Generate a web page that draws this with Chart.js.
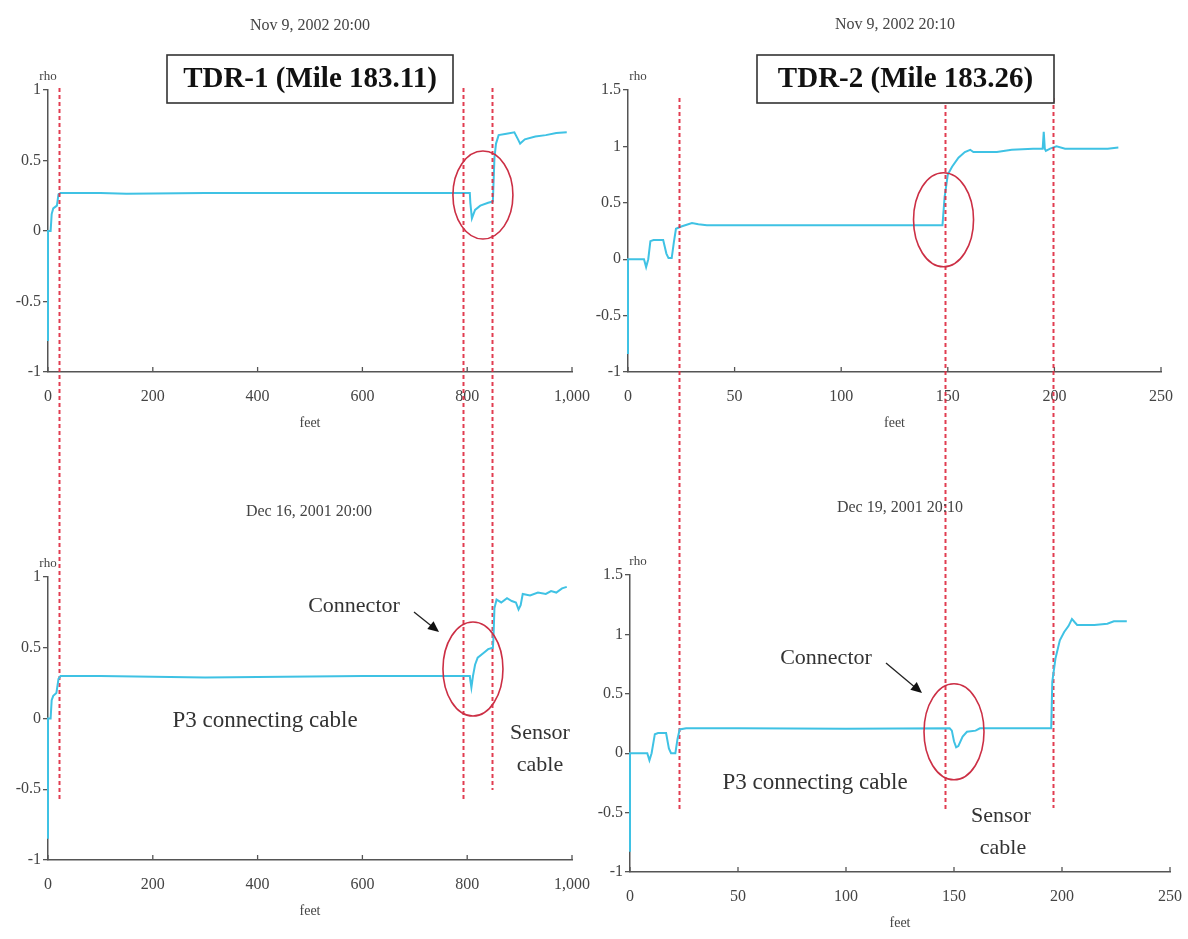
<!DOCTYPE html>
<html>
<head>
<meta charset="utf-8">
<script src="https://cdn.jsdelivr.net/npm/chart.js@4.4.1/dist/chart.umd.min.js"></script>
<style>
  html, body { margin: 0; padding: 0; background: #fff; }
  #wrap { position: relative; width: 1188px; height: 939px; }
  #wrap canvas { position: absolute; left: 0; top: 0; }
</style>
</head>
<body>
<div id="wrap">
  <canvas id="tdr1Nov" width="1188" height="939"></canvas>
  <canvas id="tdr2Nov" width="1188" height="939"></canvas>
  <canvas id="tdr1Dec" width="1188" height="939"></canvas>
  <canvas id="tdr2Dec" width="1188" height="939"></canvas>
</div>
<script>
// TDR-1, Nov 9 2002 20:00
const tdr1NovFeet = [0, 0, 5, 7, 10, 17, 20, 24, 100, 150, 300, 600, 805, 806, 809, 815, 825, 840, 849, 852, 855, 860, 875, 890, 897, 901, 910, 930, 950, 970, 990];
const tdr1NovRho  = [-0.78, 0, 0, 0.12, 0.16, 0.18, 0.26, 0.27, 0.27, 0.265, 0.27, 0.27, 0.27, 0.2, 0.09, 0.15, 0.18, 0.2, 0.21, 0.52, 0.62, 0.68, 0.69, 0.7, 0.65, 0.62, 0.65, 0.67, 0.68, 0.695, 0.7];

// TDR-2, Nov 9 2002 20:10
const tdr2NovFeet = [0, 0, 7.5, 8.5, 9.5, 10.5, 12, 16.5, 18, 19, 20.5, 21.5, 22.5, 25, 30, 33, 37, 60, 100, 147.5, 148.5, 150, 152, 155, 158, 160.5, 162, 165, 173, 180, 190, 194.5, 195, 195.5, 196, 198, 201, 205, 215, 225, 230];
const tdr2NovRho  = [-0.84, 0, 0, -0.07, 0, 0.16, 0.17, 0.17, 0.05, 0.01, 0.01, 0.15, 0.27, 0.29, 0.32, 0.31, 0.3, 0.3, 0.3, 0.3, 0.55, 0.75, 0.82, 0.9, 0.95, 0.97, 0.95, 0.95, 0.95, 0.97, 0.98, 0.98, 1.13, 0.98, 0.96, 0.98, 1.0, 0.98, 0.98, 0.98, 0.99];

// TDR-1, Dec 16 2001 20:00
const tdr1DecFeet = [0, 0, 5, 7, 10, 16, 20, 24, 100, 300, 600, 805, 806, 808, 811, 815, 820, 830, 840, 849, 850, 852, 856, 865, 876, 885, 893, 898, 902, 906, 920, 935, 950, 960, 970, 981, 990];
const tdr1DecRho  = [-0.85, 0, 0, 0.13, 0.16, 0.18, 0.28, 0.3, 0.3, 0.29, 0.3, 0.3, 0.27, 0.22, 0.3, 0.38, 0.43, 0.46, 0.49, 0.5, 0.56, 0.78, 0.84, 0.82, 0.85, 0.83, 0.82, 0.77, 0.8, 0.88, 0.87, 0.89, 0.88, 0.9, 0.89, 0.92, 0.93];

// TDR-2, Dec 19 2001 20:10
const tdr2DecFeet = [0, 0, 8, 9, 10, 11.5, 13, 16.7, 18, 19, 21, 22, 23, 26, 50, 100, 148, 149, 150, 151, 152, 154, 156, 160, 162, 170, 195, 195.5, 197, 199, 201, 203, 204.6, 206, 207, 215, 221, 224, 230];
const tdr2DecRho  = [-0.83, 0, 0, -0.06, 0, 0.16, 0.17, 0.17, 0.04, 0, 0, 0.12, 0.2, 0.21, 0.21, 0.205, 0.21, 0.19, 0.1, 0.05, 0.06, 0.14, 0.18, 0.19, 0.21, 0.21, 0.21, 0.6, 0.8, 0.95, 1.02, 1.07, 1.13, 1.1, 1.08, 1.08, 1.09, 1.11, 1.11];

// tick labels
const tdr1FeetTicks = [0, 200, 400, 600, 800, 1000];
const tdr2FeetTicks = [0, 50, 100, 150, 200, 250];
const tdr1RhoTicks = [-1, -0.5, 0, 0.5, 1];
const tdr2RhoTicks = [-1, -0.5, 0, 0.5, 1, 1.5];

// boundary markers (feet, read on the upper panels)
const tdr1MarkFeet = [21, 792, 847];
const tdr2MarkFeet = [24, 148.5, 199.5];

const TRACE = '#3fc2e4';
const AXIS = '#555';
const TEXT = '#444';
const MARK = 'rgba(222, 40, 62, 0.9)';
const RING = '#cc2f45';
const SERIF = '"Liberation Serif", "DejaVu Serif", serif';

function decorPlugin(d) {
    return {
        id: 'decor',
        afterDatasetsDraw(chart) {
            const ctx = chart.ctx;
            const xs = chart.scales.x, ys = chart.scales.y;
            ctx.save();

            // x ticks point up into the plot
            ctx.strokeStyle = AXIS;
            ctx.lineWidth = 1.3;
            xs.ticks.forEach(t => {
                const px = xs.getPixelForValue(t.value);
                ctx.beginPath();
                ctx.moveTo(px, ys.bottom);
                ctx.lineTo(px, ys.bottom - 5);
                ctx.stroke();
            });

            if (d.marks) {
                ctx.strokeStyle = MARK;
                ctx.lineWidth = 2;
                ctx.setLineDash([4, 3]);
                d.marks.feet.forEach((f, i) => {
                    const px = Math.round(xs.getPixelForValue(f)) + 0.5;
                    ctx.beginPath();
                    ctx.moveTo(px, d.marks.top);
                    ctx.lineTo(px, d.marks.bottom[i]);
                    ctx.stroke();
                });
                ctx.setLineDash([]);
            }

            if (d.ring) {
                ctx.strokeStyle = RING;
                ctx.lineWidth = 1.6;
                ctx.beginPath();
                ctx.ellipse(xs.getPixelForValue(d.ring.feet), ys.getPixelForValue(d.ring.rho),
                    d.ring.rx, d.ring.ry, 0, 0, Math.PI * 2);
                ctx.stroke();
            }

            if (d.arrow) {
                const [x1, y1, x2, y2] = d.arrow;
                const a = Math.atan2(y2 - y1, x2 - x1);
                ctx.strokeStyle = '#222';
                ctx.fillStyle = '#111';
                ctx.lineWidth = 1.3;
                ctx.beginPath();
                ctx.moveTo(x1, y1);
                ctx.lineTo(x2 - 8 * Math.cos(a), y2 - 8 * Math.sin(a));
                ctx.stroke();
                ctx.beginPath();
                ctx.moveTo(x2, y2);
                ctx.lineTo(x2 - 11 * Math.cos(a) + 5 * Math.sin(a), y2 - 11 * Math.sin(a) - 5 * Math.cos(a));
                ctx.lineTo(x2 - 11 * Math.cos(a) - 5 * Math.sin(a), y2 - 11 * Math.sin(a) + 5 * Math.cos(a));
                ctx.closePath();
                ctx.fill();
            }

            ctx.textAlign = 'center';
            ctx.textBaseline = 'middle';

            // date line
            ctx.fillStyle = TEXT;
            ctx.font = '16px ' + SERIF;
            ctx.fillText(d.date.text, d.date.x, d.date.y);

            // "rho" above the y axis
            ctx.font = '13px ' + SERIF;
            ctx.fillText('rho', chart.chartArea.left + d.rhoDx, chart.chartArea.top - 13);

            (d.notes || []).forEach(n => {
                ctx.fillStyle = '#333';
                ctx.font = n.size + 'px ' + SERIF;
                ctx.fillText(n.text, n.x, n.y);
            });

            if (d.box) {
                const b = d.box;
                ctx.fillStyle = '#fff';
                ctx.fillRect(b.x, b.y, b.w, b.h);
                ctx.strokeStyle = '#333';
                ctx.lineWidth = 1.6;
                ctx.strokeRect(b.x, b.y, b.w, b.h);
                ctx.fillStyle = '#111';
                ctx.font = 'bold 29px ' + SERIF;
                ctx.fillText(b.text, b.x + b.w / 2, b.y + b.h / 2 + 1);
            }
            ctx.restore();
        }
    };
}

function makePanel(id, feet, rho, feetTicks, rhoTicks, pad, decor) {
    const ctx = document.getElementById(id).getContext('2d');
    return new Chart(ctx, {
        type: 'line',
        data: {
            datasets: [{
                data: feet.map((f, i) => ({ x: f, y: rho[i] })),
                borderColor: TRACE,
                borderWidth: 2,
                pointRadius: 0,
                tension: 0,
                clip: false
            }]
        },
        options: {
            responsive: false,
            animation: false,
            events: [],
            layout: { padding: pad },
            plugins: { legend: { display: false }, tooltip: { enabled: false } },
            scales: {
                x: {
                    type: 'linear',
                    min: feetTicks[0],
                    max: feetTicks[feetTicks.length - 1],
                    afterBuildTicks: s => { s.ticks = feetTicks.map(v => ({ value: v })); },
                    afterFit: s => { s.height = 62; s.paddingLeft = 0; s.paddingRight = 0; },
                    grid: { drawOnChartArea: false, drawTicks: false },
                    border: { color: AXIS, width: 1.5 },
                    ticks: { color: TEXT, padding: 15, font: { family: SERIF, size: 16 } },
                    title: { display: true, text: 'feet', color: TEXT, padding: { top: 0, bottom: 2 }, font: { family: SERIF, size: 14 } }
                },
                y: {
                    min: rhoTicks[0],
                    max: rhoTicks[rhoTicks.length - 1],
                    afterBuildTicks: s => { s.ticks = rhoTicks.map(v => ({ value: v })); },
                    afterFit: s => { s.width = 40; s.paddingTop = 0; s.paddingBottom = 0; },
                    grid: { drawOnChartArea: false, drawTicks: true, tickLength: 5, color: AXIS, lineWidth: 1.3 },
                    border: { color: AXIS, width: 1.5 },
                    ticks: { color: TEXT, padding: 2, font: { family: SERIF, size: 16 }, callback: v => String(v) }
                }
            }
        },
        plugins: [decorPlugin(decor)]
    });
}

makePanel('tdr1Nov', tdr1NovFeet, tdr1NovRho, tdr1FeetTicks, tdr1RhoTicks,
    { left: 8, right: 616, top: 90, bottom: 505 },
    {
        date: { text: 'Nov 9, 2002 20:00', x: 310, y: 26 },
        rhoDx: 0,
        box: { x: 167, y: 55, w: 286, h: 48, text: 'TDR-1 (Mile 183.11)' },
        marks: { feet: tdr1MarkFeet, top: 88, bottom: [800, 800, 790] },
        ring: { feet: 830, rho: 0.255, rx: 30, ry: 44 }
    });

makePanel('tdr2Nov', tdr2NovFeet, tdr2NovRho, tdr2FeetTicks, tdr2RhoTicks,
    { left: 588, right: 27, top: 90, bottom: 505 },
    {
        date: { text: 'Nov 9, 2002 20:10', x: 895, y: 25 },
        rhoDx: 10,
        box: { x: 757, y: 55, w: 297, h: 48, text: 'TDR-2 (Mile 183.26)' },
        marks: { feet: tdr2MarkFeet, top: 98, bottom: [810, 812, 808] },
        ring: { feet: 148, rho: 0.35, rx: 30, ry: 47 }
    });

makePanel('tdr1Dec', tdr1DecFeet, tdr1DecRho, tdr1FeetTicks, tdr1RhoTicks,
    { left: 8, right: 616, top: 577, bottom: 17 },
    {
        date: { text: 'Dec 16, 2001 20:00', x: 309, y: 512 },
        rhoDx: 0,
        ring: { feet: 811, rho: 0.35, rx: 30, ry: 47 },
        arrow: [414, 612, 439, 632],
        notes: [
            { text: 'Connector', x: 354, y: 606, size: 22 },
            { text: 'P3 connecting cable', x: 265, y: 721, size: 23 },
            { text: 'Sensor', x: 540, y: 733, size: 22 },
            { text: 'cable', x: 540, y: 765, size: 22 }
        ]
    });

makePanel('tdr2Dec', tdr2DecFeet, tdr2DecRho, tdr2FeetTicks, tdr2RhoTicks,
    { left: 590, right: 18, top: 575, bottom: 5 },
    {
        date: { text: 'Dec 19, 2001 20:10', x: 900, y: 508 },
        rhoDx: 8,
        ring: { feet: 150, rho: 0.18, rx: 30, ry: 48 },
        arrow: [886, 663, 922, 693],
        notes: [
            { text: 'Connector', x: 826, y: 658, size: 22 },
            { text: 'P3 connecting cable', x: 815, y: 783, size: 23 },
            { text: 'Sensor', x: 1001, y: 816, size: 22 },
            { text: 'cable', x: 1003, y: 848, size: 22 }
        ]
    });
</script>
</body>
</html>
